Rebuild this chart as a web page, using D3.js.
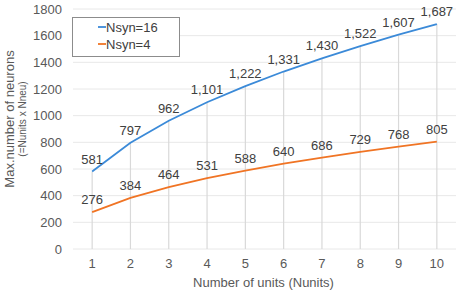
<!DOCTYPE html>
<html>
<head>
<meta charset="utf-8">
<script src="https://cdn.jsdelivr.net/npm/d3@7"></script>
<style>
  body { margin: 0; background: #fff; }
  text { font-family: "Liberation Sans", Arial, sans-serif; }
</style>
</head>
<body>
<div id="chart"></div>
<script>
const units = [1, 2, 3, 4, 5, 6, 7, 8, 9, 10];
const nsyn16 = [581, 797, 962, 1101, 1222, 1331, 1430, 1522, 1607, 1687];
const nsyn4 = [276, 384, 464, 531, 588, 640, 686, 729, 768, 805];
const yTicks = [0, 200, 400, 600, 800, 1000, 1200, 1400, 1600, 1800];
const seriesNames = ["Nsyn=16", "Nsyn=4"];

const W = 459, H = 292;
const margin = { top: 9, right: 3, bottom: 43, left: 73 },
      width = W - margin.left - margin.right,
      height = H - margin.top - margin.bottom;

const colors = ["#3b8ad8", "#f07424"];

const svg = d3.select("#chart").append("svg")
    .attr("width", W).attr("height", H);
const g = svg.append("g").attr("transform", `translate(${margin.left},${margin.top})`);

const x = d3.scaleBand().domain(units).range([0, width]);
const y = d3.scaleLinear().domain([0, 1800]).range([height, 0]);
const cx = d => x(d) + x.bandwidth() / 2;

// horizontal gridlines
g.selectAll(".hgrid").data(yTicks).enter().append("line")
    .attr("x1", 0).attr("x2", width)
    .attr("y1", d => y(d)).attr("y2", d => y(d))
    .attr("stroke", "#e8e8e8").attr("stroke-width", 1);

// drop lines
g.selectAll(".drop").data(units).enter().append("line")
    .attr("x1", d => cx(d)).attr("x2", d => cx(d))
    .attr("y1", (d, i) => y(Math.max(nsyn16[i], nsyn4[i])))
    .attr("y2", y(0))
    .attr("stroke", "#d9d9d9").attr("stroke-width", 1.2);

// y axis labels
const yAxis = g.append("g").call(d3.axisLeft(y).tickValues(yTicks).tickFormat(d3.format("d")).tickSize(0).tickPadding(11));
yAxis.select(".domain").remove();
yAxis.selectAll("text").attr("font-size", 13).attr("fill", "#595959")
    .style("font-family", "'Liberation Sans', Arial, sans-serif");

// x axis labels
const xAxis = g.append("g").attr("transform", `translate(0,${height})`)
    .call(d3.axisBottom(x).tickSize(0).tickPadding(10));
xAxis.select(".domain").remove();
xAxis.selectAll("text").attr("font-size", 13).attr("fill", "#595959")
    .style("font-family", "'Liberation Sans', Arial, sans-serif");

// lines + labels
[nsyn16, nsyn4].forEach((vals, s) => {
  const line = d3.line().x((d, i) => cx(units[i])).y(d => y(d));
  g.append("path").datum(vals)
      .attr("fill", "none").attr("stroke", colors[s]).attr("stroke-width", 1.8)
      .attr("d", line);
  g.selectAll(".lbl" + s).data(vals).enter().append("text")
      .attr("x", (d, i) => cx(units[i]))
      .attr("y", d => y(d) - 8)
      .attr("text-anchor", "middle")
      .attr("font-size", 13).attr("fill", "#404040")
      .text(d => d3.format(",")(d));
});

// axis titles
svg.append("text")
    .attr("x", margin.left + width / 2 - 1).attr("y", 287)
    .attr("text-anchor", "middle").attr("font-size", 13).attr("fill", "#595959")
    .text("Number of units (Nunits)");

svg.append("text")
    .attr("transform", "translate(14,119) rotate(-90)")
    .attr("text-anchor", "middle").attr("font-size", 13).attr("fill", "#595959")
    .text("Max.number of neurons");
svg.append("text")
    .attr("transform", "translate(26,119) rotate(-90)")
    .attr("text-anchor", "middle").attr("font-size", 10).attr("fill", "#595959")
    .text("(=Nunits x Nneu)");

// legend
const legend = svg.append("g");
legend.append("rect")
    .attr("x", 72.5).attr("y", 17.5).attr("width", 107).attr("height", 39)
    .attr("fill", "#fff").attr("stroke", "#8c8c8c").attr("stroke-width", 1);
seriesNames.forEach((name, i) => {
  const ly = 27 + i * 17;
  legend.append("line")
      .attr("x1", 98).attr("x2", 106).attr("y1", ly).attr("y2", ly)
      .attr("stroke", colors[i]).attr("stroke-width", 1.8);
  legend.append("text")
      .attr("x", 106).attr("y", ly).attr("dy", "0.35em")
      .attr("font-size", 13).attr("fill", "#404040")
      .text(name);
});
</script>
</body>
</html>
